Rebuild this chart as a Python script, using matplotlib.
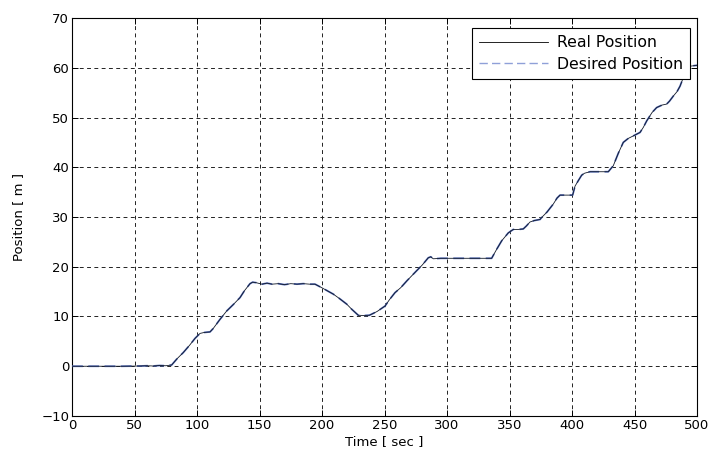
import matplotlib
matplotlib.use("Agg")
import matplotlib.pyplot as plt
import numpy as np

time_real = [0, 20, 40, 55, 60, 65, 70, 75, 79.7, 84, 89, 94, 98.4, 102.4, 106, 110.4, 113,
             118, 123.7, 129, 134.4, 138, 142.4, 144.5, 147.2, 152, 156, 160, 165, 170, 175,
             180, 185, 190, 194.4, 199.7, 204, 209, 214, 219.7, 224, 229, 233, 237.9, 244,
             250.4, 254, 258.4, 263, 268, 273, 275.7, 280, 283, 285, 287, 289, 295, 310, 320,
             335.7, 339.7, 343.7, 347, 349, 353, 357, 361, 363.5, 366.4, 370, 374.4, 375.7,
             380, 385, 388, 390.4, 395, 400.5, 402.4, 405, 407.7, 410, 414.4, 420, 429, 433,
             437, 441, 445, 449, 454.4, 457, 459.7, 464, 467.7, 472, 475.7, 478, 481, 484,
             486.4, 489, 491.7, 494, 500]
pos_real = [0, 0, 0, 0.05, 0.1, 0.05, 0.15, 0.1, 0.25, 1.5, 2.75, 4.2, 5.6, 6.6, 6.8, 6.9, 7.6,
            9.3, 11.1, 12.4, 13.8, 15.2, 16.6, 16.9, 16.8, 16.5, 16.7, 16.5, 16.6, 16.4, 16.6,
            16.5, 16.6, 16.5, 16.5, 15.8, 15.2, 14.5, 13.6, 12.5, 11.4, 10.25, 10.2, 10.25, 11.0,
            12.1, 13.4, 14.8, 15.8, 17.2, 18.5, 19.2, 20.3, 21.2, 21.8, 22.0, 21.6, 21.7, 21.7, 21.7,
            21.7, 23.5, 25.2, 26.2, 26.8, 27.5, 27.5, 27.6, 28.2, 29.0, 29.3, 29.5, 29.9,
            31.0, 32.6, 33.8, 34.4, 34.4, 34.4, 36.2, 37.3, 38.4, 38.8, 39.1, 39.1, 39.1, 40.3,
            42.8, 45.0, 45.8, 46.3, 47.0, 48.0, 49.3, 51.0, 52.0, 52.5, 52.7, 53.3, 54.3, 55.2,
            56.3, 58.0, 60.0, 60.3, 60.5]

time_des = time_real
pos_des = pos_real

x_ticks = [0, 50, 100, 150, 200, 250, 300, 350, 400, 450, 500]
y_ticks = [-10, 0, 10, 20, 30, 40, 50, 60, 70]
y_labels = ["\u221210", "0", "10", "20", "30", "40", "50", "60", "70"]

plt.rcParams['font.family'] = ['DejaVu Sans']

fig = plt.figure(figsize=(7.13, 4.62), dpi=100)
ax = fig.add_axes([0.101, 0.0996, 0.8766, 0.8614])

ax.plot(time_des, pos_des, color='#5a72c0', lw=1.3, ls=(0, (6, 3)), label='Desired Position', zorder=3)
ax.plot(time_real, pos_real, color='#101828', lw=0.6, label='Real Position', zorder=4)

ax.set_xlim(0, 500)
ax.set_ylim(-10, 70)
ax.set_xticks(x_ticks)
ax.set_yticks(y_ticks)
ax.set_yticklabels(y_labels)
ax.grid(True, color='#222222', ls=(0, (4, 3.5)), lw=0.7)
ax.tick_params(direction='in', top=True, right=True, labelsize=9.5, length=4, width=0.7, pad=2)
for s in ax.spines.values():
    s.set_linewidth(0.8)
ax.set_xlabel('Time [ sec ]', fontsize=9.5, labelpad=2)
ax.set_ylabel('Position [ m ]', fontsize=9.5, labelpad=12)

h, l = ax.get_legend_handles_labels()
leg = ax.legend([h[1], h[0]], [l[1], l[0]], loc='upper right',
                bbox_to_anchor=(1 - 7 / 625, 1 - 10 / 398), borderaxespad=0,
                fontsize=11.3, fancybox=False, framealpha=1, edgecolor='black',
                handlelength=4.4, handletextpad=0.55, borderpad=0.45, labelspacing=0.42)
leg.get_frame().set_linewidth(0.8)
leg.legend_handles[0].set_color('black')
leg.legend_handles[1].set_color('#8fa0d8')
leg.legend_handles[1].set_linewidth(1.0)

fig.savefig('out.png', dpi=100)
